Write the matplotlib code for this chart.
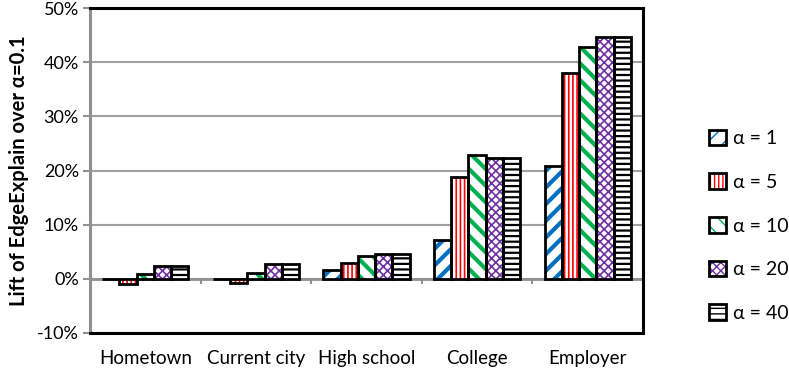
import matplotlib
matplotlib.use("Agg")
import matplotlib.pyplot as plt
import matplotlib.patches as mpatches
import matplotlib.ticker as ticker
from matplotlib.legend_handler import HandlerTuple
import numpy as np

plt.rcParams['font.family'] = ['Lato', 'DejaVu Sans']

categories = ["Hometown", "Current city", "High school", "College", "Employer"]
series_labels = ["α = 1", "α = 5", "α = 10", "α = 20", "α = 40"]

# lift in percent, one list per alpha
alpha_1 = [0.0, 0.0, 1.6, 7.2, 20.8]
alpha_5 = [-1.0, -0.8, 3.0, 18.9, 38.1]
alpha_10 = [0.9, 1.1, 4.3, 22.8, 42.8]
alpha_20 = [2.4, 2.8, 4.6, 22.3, 44.6]
alpha_40 = [2.4, 2.8, 4.6, 22.3, 44.6]
all_series = [alpha_1, alpha_5, alpha_10, alpha_20, alpha_40]

hatch_colors = ["#0070c0", "#ff0000", "#00b050", "#7030a0", "black"]
hatches = ["//", "||||", "\\\\", "xxxx", "---"]
hatch_lw = [3.0, 1.2, 3.0, 1.2, 1.6]

fig = plt.figure(figsize=(7.89, 3.72), dpi=100)
ax = fig.add_axes([0.114, 0.105, 0.701, 0.873])

x = np.arange(len(categories))
bw = 0.156
handles = []
for i, vals in enumerate(all_series):
    pos = x + (i - 2) * bw
    with plt.rc_context({'hatch.linewidth': hatch_lw[i]}):
        ax.bar(pos, vals, bw, color="white", edgecolor=hatch_colors[i],
               hatch=hatches[i], linewidth=0, zorder=3)
        p1 = mpatches.Rectangle((0, 0), 1, 1, facecolor="white",
                                edgecolor=hatch_colors[i], hatch=hatches[i], linewidth=0)
    ax.bar(pos, vals, bw, fill=False, edgecolor="black", linewidth=2, zorder=4)
    p2 = mpatches.Rectangle((0, 0), 1, 1, fill=False, edgecolor="black", linewidth=2)
    handles.append((p1, p2))

ax.set_xlim(-0.5, len(categories) - 0.5)
ax.set_ylim(-10, 50)
ax.yaxis.set_major_locator(ticker.MultipleLocator(10))
ax.yaxis.set_major_formatter(ticker.FuncFormatter(lambda v, p: "%d%%" % v))
ax.grid(True, axis="y", color="#a0a0a0", linewidth=1.5, zorder=0)

ax.axhline(0, color="#909090", linewidth=2, zorder=2)
ax.vlines(x[:-1] + 0.5, -0.9, 0, color="#909090", linewidth=1.5, zorder=2)

ax.set_xticks(x)
ax.set_xticklabels(categories, fontsize=13.5)
ax.tick_params(axis="x", length=0, pad=12)
ax.tick_params(axis="y", labelsize=13, color="#909090", length=5, width=1.5, pad=3)

for s in ["top", "right", "bottom"]:
    ax.spines[s].set_color("black")
    ax.spines[s].set_linewidth(2.2)
ax.spines["left"].set_color("#909090")
ax.spines["left"].set_linewidth(2.2)

ax.set_ylabel("Lift of EdgeExplain over α=0.1", fontsize=14.5, fontweight="bold", labelpad=6)

ax.legend(handles, series_labels, handler_map={tuple: HandlerTuple(ndivide=1)},
          loc="center left", bbox_to_anchor=(1.095, 0.33), frameon=False,
          fontsize=14, handlelength=0.85, handleheight=0.85, handletextpad=0.35,
          labelspacing=1.35, borderaxespad=0.3)

fig.savefig("out.png", dpi=100)
